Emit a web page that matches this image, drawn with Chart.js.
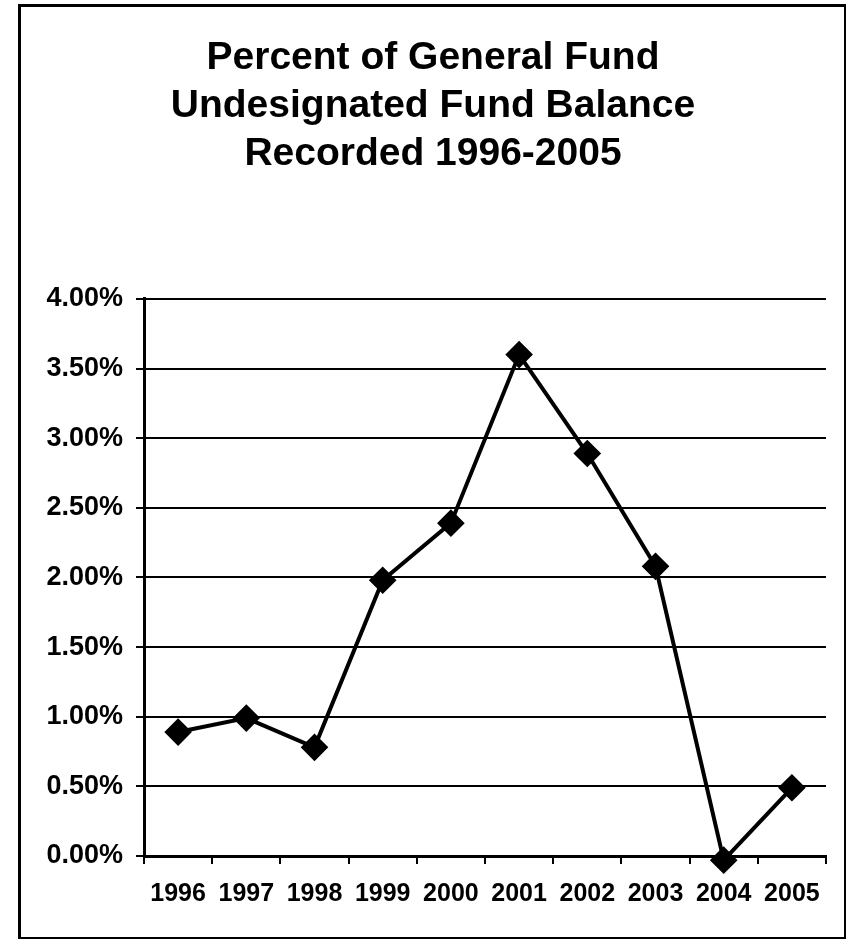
<!DOCTYPE html>
<html>
<head>
<meta charset="utf-8">
<script src="https://cdn.jsdelivr.net/npm/chart.js@4.4.1/dist/chart.umd.min.js"></script>
<style>
  body { margin: 0; background: #fff; }
  #wrap { position: relative; width: 846px; height: 939px; }
  #frame { position: absolute; left: 18px; top: 4px; width: 823px; height: 930px; border: 3px solid #000; pointer-events: none; }
</style>
</head>
<body>
<div id="wrap">
  <canvas id="fundChart" width="846" height="939"></canvas>
  <div id="frame"></div>
</div>
<script>
// chart data
const years = ["1996", "1997", "1998", "1999", "2000", "2001", "2002", "2003", "2004", "2005"];
const percentValues = [0.89, 0.99, 0.78, 1.98, 2.39, 3.60, 2.89, 2.08, -0.03, 0.49];
const titleLines = ["Percent of General Fund", "Undesignated Fund Balance", "Recorded 1996-2005"];

const ctx = document.getElementById("fundChart").getContext("2d");

const fundChart = new Chart(ctx, {
    type: "line",
    data: {
        labels: years,
        datasets: [{
            label: "Undesignated Fund Balance",
            data: percentValues,
            borderColor: "#000",
            borderWidth: 4,
            pointStyle: "rectRot",
            pointRadius: 11,
            pointBackgroundColor: "#000",
            pointBorderColor: "#000",
            tension: 0,
            clip: false
        }]
    },
    options: {
        responsive: false,
        animation: false,
        layout: { padding: { left: 40, right: 20, top: 0, bottom: 0 } },
        plugins: {
            legend: { display: false },
            tooltip: { enabled: false },
            title: {
                display: true,
                text: titleLines,
                color: "#000",
                font: { family: "Liberation Sans, Arial", size: 39, weight: "bold", lineHeight: 1.23 },
                padding: { top: 34, bottom: 121 }
            }
        },
        scales: {
            x: {
                offset: true,
                grid: {
                    offset: true,
                    color: c => c.index === years.length ? "#000" : "rgba(0,0,0,0)",
                    lineWidth: 2,
                    tickColor: "#000",
                    tickWidth: 2,
                    tickLength: 8
                },
                border: { color: "#000", width: 3 },
                ticks: {
                    color: "#000",
                    font: { family: "Liberation Sans, Arial", size: 25, weight: "bold" },
                    padding: 15,
                    maxRotation: 0,
                    autoSkip: false
                },
                afterFit: s => { s.height = 83; }
            },
            y: {
                min: 0,
                max: 4,
                ticks: {
                    stepSize: 0.5,
                    color: "#000",
                    font: { family: "Liberation Sans, Arial", size: 27, weight: "bold" },
                    padding: 13,
                    callback: v => v.toFixed(2) + "%"
                },
                grid: {
                    color: "#000",
                    lineWidth: 2,
                    tickColor: "#000",
                    tickLength: 8
                },
                border: { color: "#000", width: 3 },
                afterFit: s => { s.width = 104; }
            }
        }
    }
});
</script>
</body>
</html>
